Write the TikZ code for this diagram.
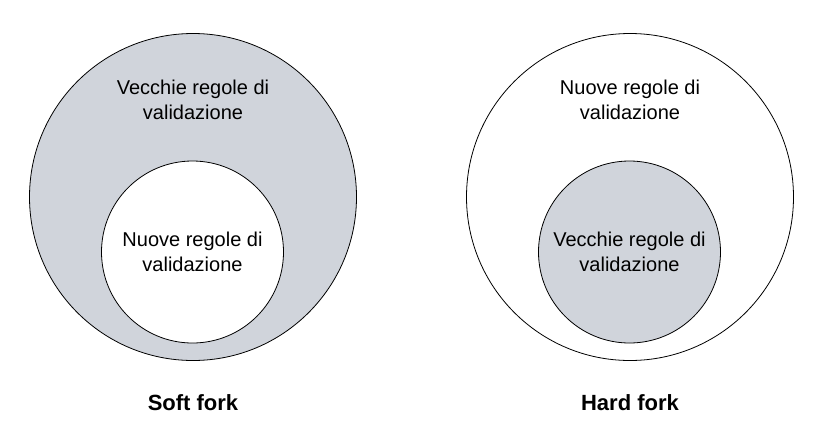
\documentclass[tikz,border=0pt]{standalone}
\usepackage{fontspec}
\setmainfont{Liberation Sans}
\definecolor{oldgray}{RGB}{208,212,219}
\begin{document}
\begin{tikzpicture}[x=1pt,y=-1pt,
  bigc/.style={circle, draw=black, line width=0.8pt, minimum size=327pt, inner sep=0pt},
  smallc/.style={circle, draw=black, line width=0.8pt, minimum size=182pt, inner sep=0pt},
  lbl/.style={font=\fontsize{20}{25}\selectfont, align=center, inner sep=0pt},
  ttl/.style={font=\bfseries\fontsize{22}{25}\selectfont, inner sep=0pt}]
\fill[white] (0,0) rectangle (823,424);
\useasboundingbox (0,0) rectangle (823,424);
% Soft fork
\node[bigc, fill=oldgray] (softout) at (193,197) {};
\node[smallc, fill=white] (softin) at (192.5,252) {};
\node[lbl] (softoldt) at (193,99.5) {Vecchie regole di\\validazione};
\node[lbl] (softnewt) at (192.5,252) {Nuove regole di\\validazione};
\node[ttl] (softtitle) at (193,403) {Soft fork};
% Hard fork
\node[bigc, fill=white] (hardout) at (630,197) {};
\node[smallc, fill=oldgray] (hardin) at (629.5,252) {};
\node[lbl] (hardnewt) at (630,99.5) {Nuove regole di\\validazione};
\node[lbl] (hardoldt) at (629.5,252) {Vecchie regole di\\validazione};
\node[ttl] (hardtitle) at (630,403) {Hard fork};
\end{tikzpicture}
\end{document}
